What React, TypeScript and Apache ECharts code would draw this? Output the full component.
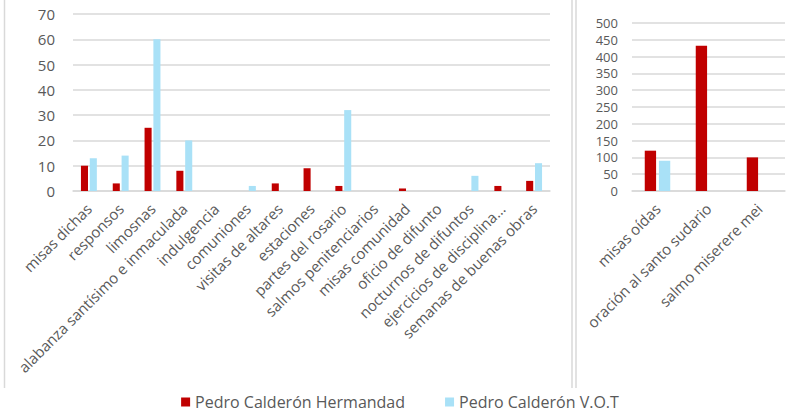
import React, { useEffect, useRef } from "react";
import * as echarts from "echarts";

const leftCategories = [
  "misas dichas",
  "responsos",
  "limosnas",
  "alabanza santísimo e inmaculada",
  "indulgencia",
  "comuniones",
  "visitas de altares",
  "estaciones",
  "partes del rosario",
  "salmos penitenciarios",
  "misas comunidad",
  "oficio de difunto",
  "nocturnos de difuntos",
  "ejercicios de disciplina...",
  "semanas de buenas obras",
];
const leftHermandad = [10, 3, 25, 8, 0, 0, 3, 9, 2, 0, 1, 0, 0, 2, 4];
const leftVOT = [13, 14, 60, 20, 0, 2, 0, 0, 32, 0, 0, 0, 6, 0, 11];

const rightCategories = ["misas oídas", "oración al santo sudario", "salmo miserere mei"];
const rightHermandad = [120, 432, 100];
const rightVOT = [90, 0, 0];

const seriesNames = ["Pedro Calderón Hermandad", "Pedro Calderón V.O.T"];
const leftTicks = { max: 70, interval: 10 };
const rightTicks = { max: 500, interval: 50 };

const RED = "#C00000";
const BLUE = "#A9E1F7";
const TEXT = "#595959";
const GRID = "#D9D9D9";
const FONT = "Open Sans";

export default function App() {
  const ref = useRef<HTMLDivElement>(null);
  useEffect(() => {
    if (!ref.current) return;
    const chart = echarts.init(ref.current, undefined, { renderer: "svg" });
    const xAxisCommon = {
      type: "category" as const,
      axisLine: { show: true, lineStyle: { color: GRID, width: 1.5 } },
      axisTick: { show: false },
      axisLabel: {
        rotate: 45,
        color: TEXT,
        fontFamily: FONT,
        fontSize: 15,
        margin: 15,
        interval: 0,
      },
    };
    const yAxisCommon = {
      type: "value" as const,
      min: 0,
      axisLine: { show: false },
      axisTick: { show: false },
      splitLine: { lineStyle: { color: GRID, width: 1.5 } },
      axisLabel: { color: TEXT, fontFamily: FONT, fontSize: 15 },
    };
    chart.setOption({
      animation: false,
      backgroundColor: "#fff",
      grid: [
        { left: 73, right: 250, top: 14, bottom: 225 },
        { left: 632, right: 15, top: 23, bottom: 225 },
      ],
      xAxis: [
        { ...xAxisCommon, gridIndex: 0, data: leftCategories },
        { ...xAxisCommon, gridIndex: 1, data: rightCategories },
      ],
      yAxis: [
        { ...yAxisCommon, gridIndex: 0, max: leftTicks.max, interval: leftTicks.interval, axisLabel: { ...yAxisCommon.axisLabel, margin: 18 } },
        { ...yAxisCommon, gridIndex: 1, max: rightTicks.max, interval: rightTicks.interval, axisLabel: { ...yAxisCommon.axisLabel, fontSize: 13, lineHeight: 13, margin: 14 } },
      ],
      legend: {
        bottom: 1,
        left: "center",
        itemWidth: 9,
        itemHeight: 9,
        itemGap: 40,
        icon: "rect",
        textStyle: { color: TEXT, fontFamily: FONT, fontSize: 16 },
        data: seriesNames,
      },
      graphic: [
        { type: "line", shape: { x1: 4.5, y1: 0, x2: 4.5, y2: 388 }, style: { stroke: GRID, lineWidth: 1.5 } },
        { type: "line", shape: { x1: 572, y1: 0, x2: 572, y2: 388 }, style: { stroke: GRID, lineWidth: 1.5 } },
        { type: "line", shape: { x1: 576, y1: 0, x2: 576, y2: 388 }, style: { stroke: GRID, lineWidth: 1.5 } },
      ],
      series: [
        { name: seriesNames[0], type: "bar", xAxisIndex: 0, yAxisIndex: 0, data: leftHermandad, itemStyle: { color: RED }, barCategoryGap: "50%", barGap: "25%" },
        { name: seriesNames[1], type: "bar", xAxisIndex: 0, yAxisIndex: 0, data: leftVOT, itemStyle: { color: BLUE }, barCategoryGap: "50%", barGap: "25%" },
        { name: seriesNames[0], type: "bar", xAxisIndex: 1, yAxisIndex: 1, data: rightHermandad, itemStyle: { color: RED }, barCategoryGap: "50%", barGap: "25%" },
        { name: seriesNames[1], type: "bar", xAxisIndex: 1, yAxisIndex: 1, data: rightVOT, itemStyle: { color: BLUE }, barCategoryGap: "50%", barGap: "25%" },
      ],
    });
    return () => chart.dispose();
  }, []);
  return <div ref={ref} style={{ width: 800, height: 416, position: "fixed", left: 0, top: 0 }} />;
}
